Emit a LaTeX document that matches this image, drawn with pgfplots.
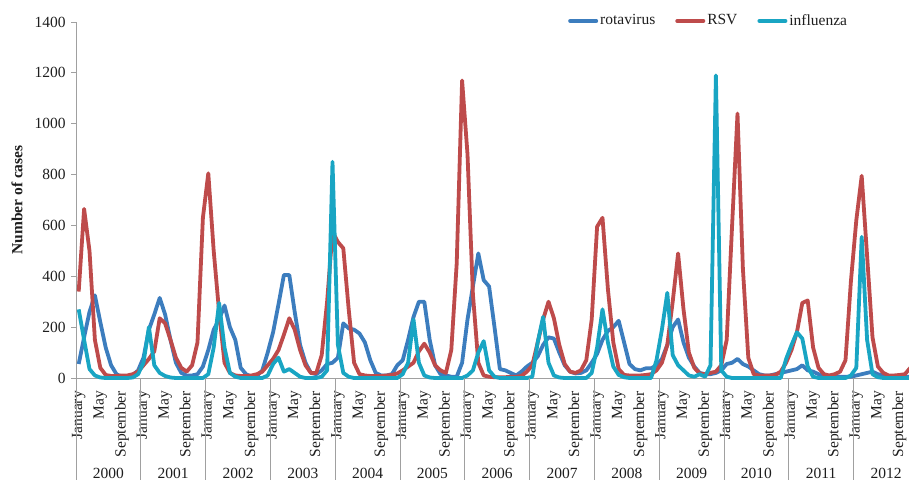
\documentclass[border=0pt]{standalone}
\usepackage{pgfplots}
\pgfplotsset{compat=1.18}
\usepackage{pgfplotstable}
\usepackage{fontspec}
\setmainfont{Liberation Serif}
\definecolor{rota}{RGB}{60,125,190}
\definecolor{rsv}{RGB}{190,75,75}
\definecolor{flu}{RGB}{25,165,195}
\definecolor{axgray}{RGB}{160,160,160}
\definecolor{txt}{RGB}{30,30,30}

\pgfplotstableread{
i rota rsv flu
0 55 340 270
1 160 665 150
2 260 500 35
3 325 150 10
4 220 40 2
5 120 12 0
6 50 8 0
7 15 8 0
8 5 10 0
9 5 10 0
10 10 15 2
11 30 25 15
12 80 50 60
13 190 75 200
14 250 105 50
15 315 235 20
16 250 215 8
17 150 150 2
18 60 80 0
19 20 40 0
20 10 25 0
21 10 50 0
22 15 140 0
23 45 630 0
24 110 805 15
25 190 500 120
26 230 260 295
27 285 60 120
28 200 20 20
29 150 10 5
30 40 8 0
31 15 8 0
32 5 10 0
33 8 15 0
34 30 25 0
35 100 50 10
36 180 75 55
37 290 110 80
38 405 170 25
39 405 235 35
40 260 190 20
41 130 110 5
42 60 50 0
43 20 20 0
44 15 20 0
45 30 90 5
46 55 300 30
47 60 575 850
48 80 535 130
49 215 510 20
50 195 270 5
51 190 60 0
52 175 15 0
53 140 10 0
54 70 8 0
55 20 8 0
56 10 8 0
57 10 10 0
58 15 12 0
59 50 18 0
60 70 30 15
61 150 45 60
62 240 60 230
63 300 105 60
64 300 135 10
65 150 100 2
66 50 50 0
67 15 30 0
68 10 20 0
69 5 110 0
70 5 450 0
71 60 1170 0
72 230 880 10
73 360 330 30
74 490 60 100
75 385 10 145
76 360 5 30
77 200 3 5
78 35 3 0
79 30 3 0
80 20 5 0
81 10 5 0
82 25 8 0
83 45 25 0
84 60 50 5
85 85 140 140
86 130 230 240
87 160 300 60
88 155 235 10
89 100 130 2
90 50 55 0
91 25 25 0
92 18 20 0
93 20 30 0
94 30 70 0
95 60 230 20
96 95 595 120
97 150 630 270
98 185 350 140
99 200 140 45
100 225 35 12
101 140 12 3
102 55 10 0
103 35 10 0
104 30 10 0
105 38 12 0
106 38 15 0
107 50 30 70
108 75 60 190
109 130 130 335
110 200 300 90
111 230 490 50
112 140 270 30
113 80 100 10
114 45 40 5
115 20 18 15
116 15 15 5
117 15 20 50
118 20 25 1190
119 30 50 30
120 55 150 5
121 60 600 0
122 75 1040 0
123 55 430 0
124 45 80 0
125 30 15 0
126 15 10 0
127 10 10 0
128 10 10 0
129 15 12 0
130 20 25 0
131 25 60 75
132 30 110 130
133 35 180 180
134 50 295 155
135 30 305 45
136 25 120 5
137 15 40 0
138 10 15 0
139 8 10 0
140 8 15 0
141 5 25 0
142 5 70 0
143 5 380 10
144 10 620 40
145 15 795 555
146 20 480 150
147 25 160 15
148 15 45 3
149 10 20 0
150 8 10 0
151 5 10 0
152 5 12 0
153 5 15 0
154 5 40 0
}\data

\begin{document}
\fontsize{15.5}{18}\selectfont
\begin{tikzpicture}
\useasboundingbox (-76pt,-102pt) rectangle (833pt,378pt);
\begin{axis}[
  at={(0pt,0pt)}, anchor=south west,
  width=833pt, height=356pt, scale only axis,
  xmin=-0.5, xmax=153.76, ymin=0, ymax=1400,
  clip=false,
  axis lines*=left,
  axis line style={draw=axgray, line width=0.8pt},
  tick align=outside, major tick length=5pt,
  ytick={0,200,...,1400},
  ytick style={draw=axgray, line width=0.8pt},
  xtick style={draw=none},
  /pgf/number format/assume math mode=true,
  /pgf/number format/1000 sep={},
  every tick label/.append style={font=\fontsize{15.5}{18}\selectfont, text=txt},
  xtick={0,4,...,152},
  xticklabels={January,May,September,January,May,September,January,May,September,January,May,September,January,May,September,January,May,September,January,May,September,January,May,September,January,May,September,January,May,September,January,May,September,January,May,September,January,May,September},
  xticklabel style={rotate=90, anchor=east, inner sep=0pt},
  xticklabel shift=8pt,
  ylabel={\textbf{Number of cases}},
  ylabel style={at={(axis description cs:-0.0708,0.5)}, anchor=center, font=\fontsize{15.5}{18}\selectfont, text=txt},
  legend columns=3,
  legend style={at={(axis description cs:0.5906,1.003)}, anchor=west, draw=none, fill=none, inner sep=0pt,
    font=\fontsize{15.5}{18}\selectfont, text=txt,
    /tikz/every even column/.append style={column sep=18pt}},
  legend cell align=left,
  legend image code/.code={\draw[#1, line width=4pt, line cap=round] (1pt,0pt) -- (27pt,0pt);},
  every axis plot/.append style={line width=3.8pt, line join=round},
]
\addplot[rota, mark=none] table[x=i, y=rota] {\data};
\addplot[rsv, mark=none] table[x=i, y=rsv] {\data};
\addplot[flu, mark=none] table[x=i, y=flu] {\data};
\legend{rotavirus, RSV, influenza}
\pgfplotsinvokeforeach{-0.5,11.5,23.5,35.5,47.5,59.5,71.5,83.5,95.5,107.5,119.5,131.5,143.5}{
  \draw[axgray, line width=0.8pt] (axis cs:#1,0) -- ++(0pt,-102pt);
}
\node[anchor=base, text=txt] at (axis cs:5.5,0)   [yshift=-100pt] {2000};
\node[anchor=base, text=txt] at (axis cs:17.5,0)  [yshift=-100pt] {2001};
\node[anchor=base, text=txt] at (axis cs:29.5,0)  [yshift=-100pt] {2002};
\node[anchor=base, text=txt] at (axis cs:41.5,0)  [yshift=-100pt] {2003};
\node[anchor=base, text=txt] at (axis cs:53.5,0)  [yshift=-100pt] {2004};
\node[anchor=base, text=txt] at (axis cs:65.5,0)  [yshift=-100pt] {2005};
\node[anchor=base, text=txt] at (axis cs:77.5,0)  [yshift=-100pt] {2006};
\node[anchor=base, text=txt] at (axis cs:89.5,0)  [yshift=-100pt] {2007};
\node[anchor=base, text=txt] at (axis cs:101.5,0) [yshift=-100pt] {2008};
\node[anchor=base, text=txt] at (axis cs:113.5,0) [yshift=-100pt] {2009};
\node[anchor=base, text=txt] at (axis cs:125.5,0) [yshift=-100pt] {2010};
\node[anchor=base, text=txt] at (axis cs:137.5,0) [yshift=-100pt] {2011};
\node[anchor=base, text=txt] at (axis cs:149.5,0) [yshift=-100pt] {2012};
\end{axis}
\end{tikzpicture}
\end{document}
